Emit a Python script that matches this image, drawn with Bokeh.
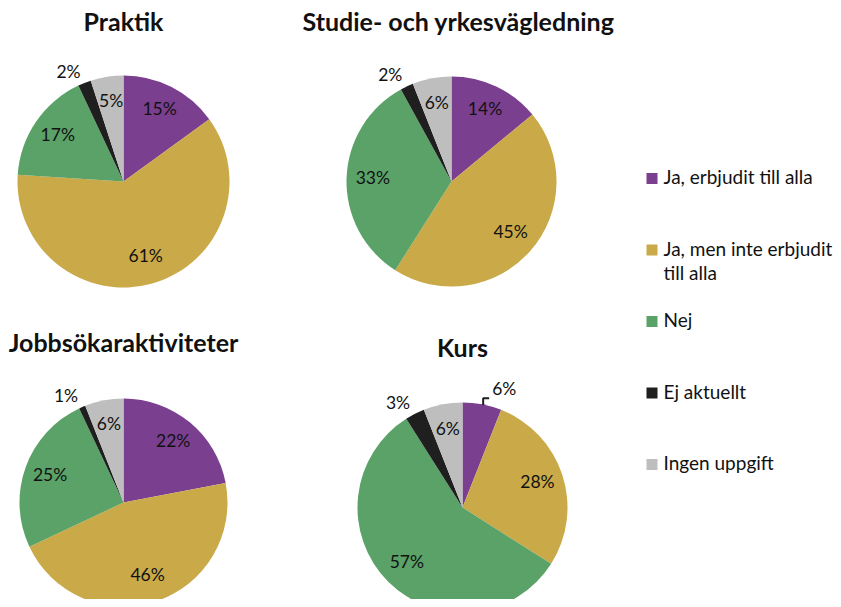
import math
from bokeh.plotting import figure
from bokeh.embed import file_html
from bokeh.resources import INLINE
from bokeh.core.properties import value

# ---- data ----
categories = ["Ja, erbjudit till alla", "Ja, men inte erbjudit till alla", "Nej", "Ej aktuellt", "Ingen uppgift"]
titles = ["Praktik", "Studie- och yrkesvägledning", "Jobbsökaraktiviteter", "Kurs"]
praktik = [15, 61, 17, 2, 5]
studie = [14, 45, 33, 2, 6]
jobbsok = [22, 46, 25, 1, 6]
kurs = [6, 28, 57, 3, 6]
series = [praktik, studie, jobbsok, kurs]
colors = ["#7B3F8F", "#C9A948", "#5AA267", "#1F1F1F", "#BEBEBE"]

# label placement per slice: "in" inside, "out" outside, "lead" outside with leader
placement = [
    ["in", "in", "in", "out", "in"],
    ["in", "in", "in", "out", "in"],
    ["in", "in", "in", "out", "in"],
    ["lead", "in", "in", "out", "in"],
]

# ---- layout (screen pixel coords) ----
W, H = 833, 599
def fx(x):
    return x
def fy(y):
    return H - y

centers = [(123, 181, 106), (451, 181, 105), (123, 502, 104), (462, 507, 105)]
title_pos = [(123, 20), (458, 20), (123, 341), (462, 346)]

p = figure(width=W, height=H, x_range=(0, W), y_range=(0, H), min_border=0,
           toolbar_location=None, output_backend="svg",
           x_axis_type=None, y_axis_type=None)
p.grid.visible = False
p.outline_line_color = None
p.background_fill_color = "white"
p.border_fill_color = "white"

FONT = "Lato"
LBL = "17.5px"
DY = 2  # upward nudge of label text (px)

for k, vals in enumerate(series):
    cx, cy, r = centers[k]
    X, Y = fx(cx), fy(cy)
    total = float(sum(vals))
    cum = 0.0
    starts, ends, mids = [], [], []
    for v in vals:
        a0 = math.pi / 2 - 2 * math.pi * (cum + v) / total
        a1 = math.pi / 2 - 2 * math.pi * cum / total
        starts.append(a0)
        ends.append(a1)
        mids.append((a0 + a1) / 2)
        cum += v
    p.wedge(x=[X] * len(vals), y=[Y] * len(vals), radius=r,
            start_angle=starts, end_angle=ends, fill_color=colors,
            line_color=None)
    # labels
    for i, v in enumerate(vals):
        m = mids[i]
        mode = placement[k][i]
        txt = f"{v}%"
        if mode == "in":
            f = 0.75
            p.text(x=[X + f * r * math.cos(m)], y=[Y + f * r * math.sin(m) + DY], text=[txt],
                   text_font=value(FONT), text_font_size=LBL, text_color="#111111",
                   text_align="center", text_baseline="middle")
        elif mode == "out":
            f = 1.1
            p.text(x=[X + f * r * math.cos(m)], y=[Y + f * r * math.sin(m) + DY], text=[txt],
                   text_font=value(FONT), text_font_size=LBL, text_color="#111111",
                   text_align="right", text_baseline="middle")
        else:
            ex, ey = X + r * math.cos(m), Y + r * math.sin(m)
            p.line(x=[ex + 1, ex + 1, ex + 7], y=[ey - 1, ey + 6, ey + 6],
                   line_color="#1F1F1F", line_width=2)
            p.text(x=[ex + 10], y=[ey + 14 + DY], text=[txt],
                   text_font=value(FONT), text_font_size=LBL, text_color="#111111",
                   text_align="left", text_baseline="middle")
    tx, ty = title_pos[k]
    p.text(x=[fx(tx)], y=[fy(ty)], text=[titles[k]], text_font=value(FONT),
           text_font_size="25px", text_font_style="bold", text_color="#111111",
           text_align="center", text_baseline="middle")

# ---- legend ----
leg_x, leg_y0, leg_dy = 646, 178, 71.5
for i, cat in enumerate(categories):
    yy = leg_y0 + i * leg_dy
    p.rect(x=[fx(leg_x + 5.5)], y=[fy(yy)], width=11, height=11,
           fill_color=colors[i], line_color=None)
    lines = [cat] if i != 1 else ["Ja, men inte erbjudit", "till alla"]
    for j, ln in enumerate(lines):
        p.text(x=[fx(663)], y=[fy(yy - 2 + j * 24)], text=[ln], text_font=value(FONT),
               text_font_size="19px", text_color="#111111",
               text_align="left", text_baseline="middle")

open("out.html", "w").write(file_html(p, INLINE))
